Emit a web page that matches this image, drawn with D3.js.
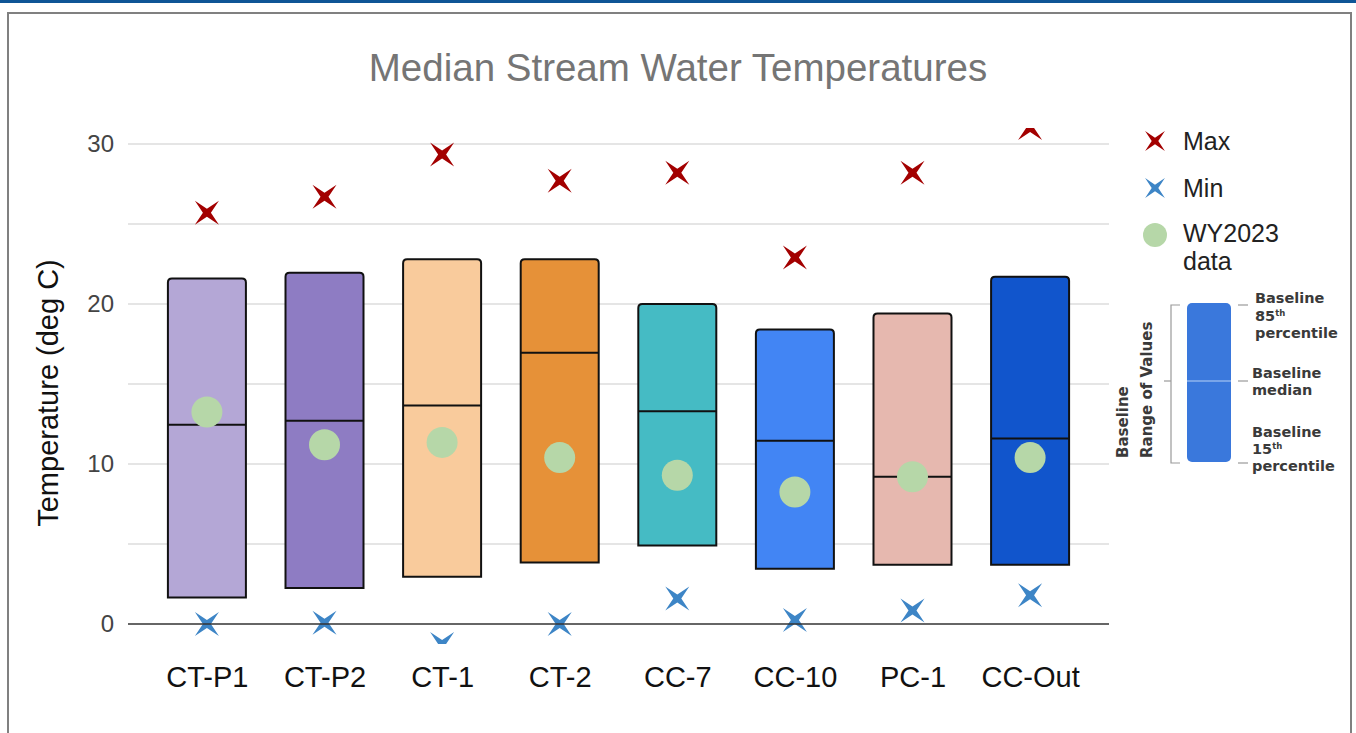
<!DOCTYPE html>
<html>
<head>
<meta charset="utf-8">
<script src="https://cdn.jsdelivr.net/npm/d3@7"></script>
<style>
  html, body { margin: 0; padding: 0; background: #fff; }
  svg { display: block; }
  text { font-family: "Liberation Sans", Arial, sans-serif; }
</style>
</head>
<body>
<svg id="chart" width="1356" height="733"></svg>
<script>
// ---- data ----
const categories = ["CT-P1", "CT-P2", "CT-1", "CT-2", "CC-7", "CC-10", "PC-1", "CC-Out"];
const p85     = [21.6, 21.95, 22.8, 22.8, 20.0, 18.4, 19.4, 21.7];
const p15     = [1.65, 2.25, 2.95, 3.85, 4.9, 3.45, 3.7, 3.7];
const medians = [12.45, 12.7, 13.65, 16.95, 13.3, 11.45, 9.2, 11.6];
const wy2023  = [13.25, 11.2, 11.35, 10.4, 9.3, 8.25, 9.2, 10.4];
const maxVals = [25.7, 26.7, 29.35, 27.7, 28.2, 22.9, 28.2, 31.0];
const minVals = [0.0, 0.08, -1.25, 0.0, 1.6, 0.25, 0.85, 1.8];
const barColors = ["#b4a7d6", "#8e7cc3", "#f9cb9c", "#e69138", "#45bbc4", "#4285f4", "#e6b8af", "#1155cc"];
const yTicks = [0, 10, 20, 30];
const yGrid = [0, 5, 10, 15, 20, 25, 30];
const titleText = "Median Stream Water Temperatures";
const yAxisTitle = "Temperature (deg C)";

const svg = d3.select("#chart");

// frame
svg.append("rect").attr("x", 0).attr("y", 0).attr("width", 1356).attr("height", 3).attr("fill", "#0f5596");
svg.append("rect").attr("x", 8).attr("y", 13).attr("width", 1343).attr("height", 740)
  .attr("fill", "none").attr("stroke", "#808080").attr("stroke-width", 2);

// scales
const x = d3.scalePoint().domain(categories).range([128, 1109]).padding(0.671);
const y = d3.scaleLinear().domain([-1.25, 31]).range([644, 128]);
const barW = 78;

// title
svg.append("text").attr("x", 678).attr("y", 81).attr("text-anchor", "middle")
  .attr("font-size", 38.5).attr("fill", "#757575").text(titleText);

// gridlines
svg.append("g").selectAll("line").data(yGrid.filter(d => d !== 0)).join("line")
  .attr("x1", 128).attr("x2", 1109)
  .attr("y1", d => y(d)).attr("y2", d => y(d))
  .attr("stroke", "#dcdcdc").attr("stroke-width", 1.5);

// y axis tick labels
const yAxis = d3.axisLeft(y).tickValues(yTicks).tickSize(0).tickPadding(0).tickFormat(d3.format("d"));
const yg = svg.append("g").attr("transform", "translate(114,0)").call(yAxis);
yg.select(".domain").remove();
yg.selectAll("text").attr("font-size", 24).attr("fill", "#444")
  .attr("font-family", "Liberation Sans, Arial, sans-serif");

// y axis title
svg.append("text").attr("transform", `translate(58,393) rotate(-90)`)
  .attr("text-anchor", "middle").attr("font-size", 29).attr("fill", "#111").text(yAxisTitle);

// x axis labels
const xAxis = d3.axisBottom(x).tickSize(0).tickPadding(0);
const xg = svg.append("g").attr("transform", "translate(0,687)").call(xAxis);
xg.select(".domain").remove();
xg.selectAll("text").attr("font-size", 29).attr("fill", "#111").attr("dy", 0)
  .attr("font-family", "Liberation Sans, Arial, sans-serif");

// clip
svg.append("defs").append("clipPath").attr("id", "plotClip")
  .append("rect").attr("x", 120).attr("y", y(31)).attr("width", 1000).attr("height", y(-1.25) - y(31));

const plot = svg.append("g").attr("clip-path", "url(#plotClip)");

// bars
const rows = categories.map((c, i) => ({ c, i, hi: p85[i], lo: p15[i], med: medians[i], wy: wy2023[i], mx: maxVals[i], mn: minVals[i], col: barColors[i] }));

function barPath(d) {
  const x0 = x(d.c) - barW / 2, x1 = x(d.c) + barW / 2;
  const yt = y(d.hi), yb = y(d.lo), r = 4;
  const p = d3.path();
  p.moveTo(x0, yb);
  p.lineTo(x0, yt + r);
  p.quadraticCurveTo(x0, yt, x0 + r, yt);
  p.lineTo(x1 - r, yt);
  p.quadraticCurveTo(x1, yt, x1, yt + r);
  p.lineTo(x1, yb);
  p.closePath();
  return p.toString();
}

plot.selectAll("path.bar").data(rows).join("path").attr("class", "bar")
  .attr("d", barPath).attr("fill", d => d.col).attr("stroke", "#111").attr("stroke-width", 2);

plot.selectAll("line.med").data(rows).join("line").attr("class", "med")
  .attr("x1", d => x(d.c) - barW / 2).attr("x2", d => x(d.c) + barW / 2)
  .attr("y1", d => y(d.med)).attr("y2", d => y(d.med))
  .attr("stroke", "#111").attr("stroke-width", 2);

// zero baseline
svg.append("line").attr("x1", 128).attr("x2", 1109).attr("y1", y(0)).attr("y2", y(0))
  .attr("stroke", "#333").attr("stroke-width", 1.5);

// star marker path (4-point star, rotated like an X)
function starPath(R, r) {
  const pts = [];
  for (let k = 0; k < 8; k++) {
    const a = Math.PI / 4 + k * Math.PI / 4;
    const rad = (k % 2 === 0) ? R : r;
    pts.push([rad * Math.cos(a), rad * Math.sin(a)]);
  }
  return "M" + pts.map(p => p.join(",")).join("L") + "Z";
}
const star = starPath(17, 4);

// WY2023 dots
plot.selectAll("circle.wy").data(rows).join("circle").attr("class", "wy")
  .attr("cx", d => x(d.c)).attr("cy", d => y(d.wy)).attr("r", 15.5).attr("fill", "#b6d7a8");

// min / max markers
plot.selectAll("path.mx").data(rows).join("path").attr("class", "mx")
  .attr("transform", d => `translate(${x(d.c)},${y(d.mx)})`).attr("d", star).attr("fill", "#a30000");
plot.selectAll("path.mn").data(rows).join("path").attr("class", "mn")
  .attr("transform", d => `translate(${x(d.c)},${y(d.mn)})`).attr("d", star).attr("fill", "#3d85c6");

// legend
const lg = svg.append("g");
const legStar = starPath(14, 3.3);
lg.append("path").attr("transform", "translate(1155,141)").attr("d", legStar).attr("fill", "#a30000");
lg.append("text").attr("x", 1183).attr("y", 150).attr("font-size", 25).attr("fill", "#222").text("Max");
lg.append("path").attr("transform", "translate(1155,188)").attr("d", legStar).attr("fill", "#3d85c6");
lg.append("text").attr("x", 1183).attr("y", 197).attr("font-size", 25).attr("fill", "#222").text("Min");
lg.append("circle").attr("cx", 1155).attr("cy", 235).attr("r", 12).attr("fill", "#b6d7a8");
lg.append("text").attr("x", 1183).attr("y", 242).attr("font-size", 25).attr("fill", "#222").text("WY2023");
lg.append("text").attr("x", 1183).attr("y", 270).attr("font-size", 25).attr("fill", "#222").text("data");

// baseline legend graphic
const bl = svg.append("g");
const bTop = 303, bBot = 462, bMid = 381;
bl.append("rect").attr("x", 1187).attr("y", bTop).attr("width", 44).attr("height", bBot - bTop)
  .attr("rx", 5).attr("fill", "#3a78dc");
bl.append("line").attr("x1", 1187).attr("x2", 1231).attr("y1", bMid).attr("y2", bMid)
  .attr("stroke", "#8fb4ee").attr("stroke-width", 1.5);
const gray = "#9a9a9a";
bl.append("path").attr("d", `M1180,${bTop + 2}H1171V${bBot + 1}H1180`).attr("fill", "none").attr("stroke", gray).attr("stroke-width", 1.2);
bl.append("line").attr("x1", 1164).attr("x2", 1171).attr("y1", bMid).attr("y2", bMid).attr("stroke", gray).attr("stroke-width", 1.2);
[bTop + 2, bMid, bBot + 1].forEach(v => {
  bl.append("line").attr("x1", 1238).attr("x2", 1248).attr("y1", v).attr("y2", v).attr("stroke", gray).attr("stroke-width", 1.2);
});
const bFont = "'DejaVu Sans', sans-serif";
function blText(xx, yy, s, sup) {
  const t = bl.append("text").attr("x", xx).attr("y", yy).attr("font-size", 14.5).attr("font-weight", "bold")
    .attr("fill", "#3a3a3a").style("font-family", bFont).text(s);
  if (sup) t.append("tspan").attr("dy", -5).attr("font-size", 8.5).text(sup);
}
blText(1255, 303, "Baseline");
blText(1255, 321, "85", "th");
blText(1255, 338, "percentile");
blText(1252, 378, "Baseline");
blText(1252, 395, "median");
blText(1252, 437, "Baseline");
blText(1252, 454, "15", "th");
blText(1252, 471, "percentile");
bl.append("text").attr("transform", "translate(1128,458) rotate(-90)").attr("font-size", 15).attr("font-weight", "bold")
  .attr("fill", "#3a3a3a").style("font-family", bFont).text("Baseline");
bl.append("text").attr("transform", "translate(1152,458) rotate(-90)").attr("font-size", 15).attr("font-weight", "bold")
  .attr("fill", "#3a3a3a").style("font-family", bFont).text("Range of Values");
</script>
</body>
</html>
